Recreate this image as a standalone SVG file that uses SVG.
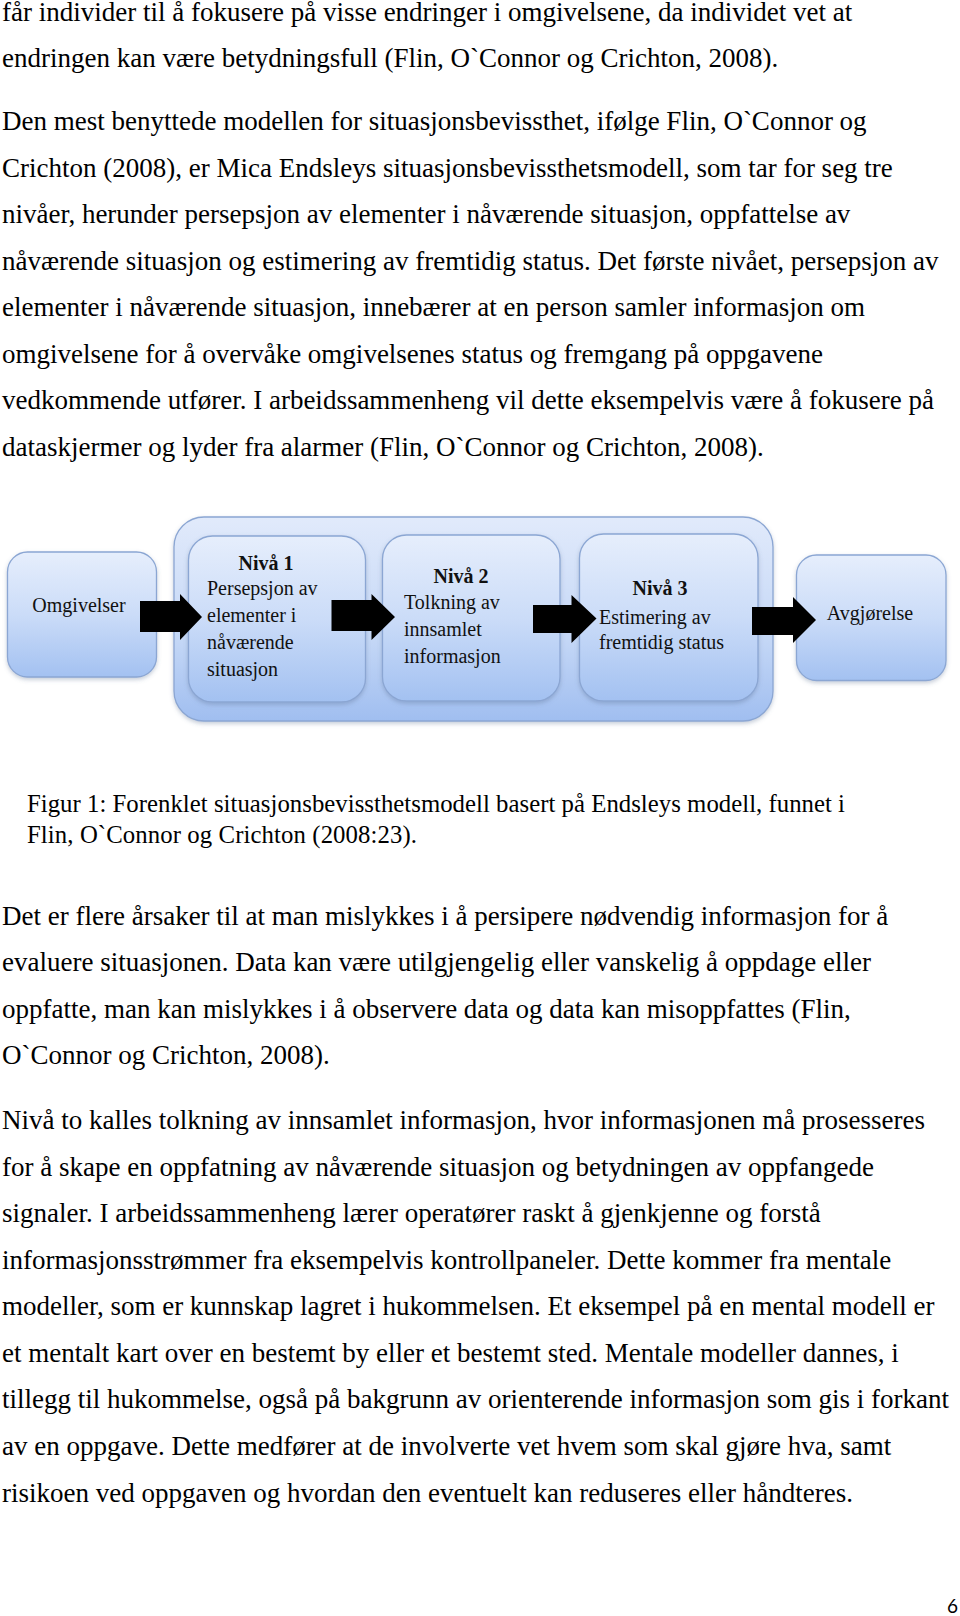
<svg xmlns="http://www.w3.org/2000/svg" width="960" height="1616" viewBox="0 0 960 1616">
<style>
.body{font-family:"Liberation Serif","Times New Roman",serif;font-size:27px;fill:#000}
.cap{font-family:"Liberation Serif","Times New Roman",serif;font-size:24.75px;fill:#000}
.dt{font-family:"Liberation Serif","Times New Roman",serif;font-size:20px;fill:#111}
.db{font-family:"Liberation Serif","Times New Roman",serif;font-size:20px;font-weight:bold;fill:#111;text-anchor:middle}
.box{fill:url(#boxGrad);stroke:#8ba6d3;stroke-width:1.3;filter:url(#sh)}
.outer{fill:url(#outerGrad);stroke:#8ba6d3;stroke-width:1.3;filter:url(#sh)}
.arrow{fill:#000}
.pg{font-family:Lato,"Open Sans",sans-serif;font-size:19px;fill:#000;text-anchor:end}
</style>
<defs>
<linearGradient id="boxGrad" x1="0" y1="0" x2="0" y2="1">
<stop offset="0" stop-color="#e6eefc"/>
<stop offset="0.5" stop-color="#cbdcf8"/>
<stop offset="1" stop-color="#a3c1f1"/>
</linearGradient>
<linearGradient id="outerGrad" x1="0" y1="0" x2="0" y2="1">
<stop offset="0" stop-color="#e1eafb"/>
<stop offset="0.6" stop-color="#c4d7f6"/>
<stop offset="1" stop-color="#a0bef0"/>
</linearGradient>
<filter id="sh" x="-10%" y="-10%" width="120%" height="125%">
<feDropShadow dx="0" dy="2" stdDeviation="2" flood-color="#5a6f90" flood-opacity="0.35"/>
</filter>
</defs>
<rect width="960" height="1616" fill="#fff"/>

<g id="text">
<text class="body" x="2" y="21">får individer til å fokusere på visse endringer i omgivelsene, da individet vet at</text>
<text class="body" x="2" y="66.5">endringen kan være betydningsfull (Flin, O`Connor og Crichton, 2008).</text>
<text class="body" x="2" y="130">Den mest benyttede modellen for situasjonsbevissthet, ifølge Flin, O`Connor og</text>
<text class="body" x="2" y="176.5">Crichton (2008), er Mica Endsleys situasjonsbevissthetsmodell, som tar for seg tre</text>
<text class="body" x="2" y="223">nivåer, herunder persepsjon av elementer i nåværende situasjon, oppfattelse av</text>
<text class="body" x="2" y="269.5">nåværende situasjon og estimering av fremtidig status. Det første nivået, persepsjon av</text>
<text class="body" x="2" y="316">elementer i nåværende situasjon, innebærer at en person samler informasjon om</text>
<text class="body" x="2" y="362.5">omgivelsene for å overvåke omgivelsenes status og fremgang på oppgavene</text>
<text class="body" x="2" y="409">vedkommende utfører. I arbeidssammenheng vil dette eksempelvis være å fokusere på</text>
<text class="body" x="2" y="455.5">dataskjermer og lyder fra alarmer (Flin, O`Connor og Crichton, 2008).</text>
<text class="cap" x="27" y="812.3" textLength="818" lengthAdjust="spacing">Figur 1: Forenklet situasjonsbevissthetsmodell basert på Endsleys modell, funnet i</text>
<text class="cap" x="27" y="843" textLength="390" lengthAdjust="spacing">Flin, O`Connor og Crichton (2008:23).</text>
<text class="body" x="2" y="924.5">Det er flere årsaker til at man mislykkes i å persipere nødvendig informasjon for å</text>
<text class="body" x="2" y="971">evaluere situasjonen. Data kan være utilgjengelig eller vanskelig å oppdage eller</text>
<text class="body" x="2" y="1017.5">oppfatte, man kan mislykkes i å observere data og data kan misoppfattes (Flin,</text>
<text class="body" x="2" y="1064">O`Connor og Crichton, 2008).</text>
<text class="body" x="2" y="1129">Nivå to kalles tolkning av innsamlet informasjon, hvor informasjonen må prosesseres</text>
<text class="body" x="2" y="1175.5">for å skape en oppfatning av nåværende situasjon og betydningen av oppfangede</text>
<text class="body" x="2" y="1222">signaler. I arbeidssammenheng lærer operatører raskt å gjenkjenne og forstå</text>
<text class="body" x="2" y="1268.5">informasjonsstrømmer fra eksempelvis kontrollpaneler. Dette kommer fra mentale</text>
<text class="body" x="2" y="1315">modeller, som er kunnskap lagret i hukommelsen. Et eksempel på en mental modell er</text>
<text class="body" x="2" y="1361.5">et mentalt kart over en bestemt by eller et bestemt sted. Mentale modeller dannes, i</text>
<text class="body" x="2" y="1408">tillegg til hukommelse, også på bakgrunn av orienterende informasjon som gis i forkant</text>
<text class="body" x="2" y="1454.5">av en oppgave. Dette medfører at de involverte vet hvem som skal gjøre hva, samt</text>
<text class="body" x="2" y="1501.5">risikoen ved oppgaven og hvordan den eventuelt kan reduseres eller håndteres.</text>
<text class="pg" x="958" y="1613">6</text>
</g>

<g id="omgivelser">
<rect class="box" x="7.5" y="552" width="149" height="125" rx="20"/>
<text class="dt" x="79" y="611.5" text-anchor="middle">Omgivelser</text>
</g>

<g id="situasjonsbevissthet">
<rect class="outer" x="174" y="517" width="599" height="204" rx="30"/>
</g>

<g id="niva1">
<rect class="box" x="188.5" y="536" width="177" height="166" rx="24"/>
<text class="db" x="266" y="569.5">Nivå 1</text>
<text class="dt" x="207" y="595">Persepsjon av</text>
<text class="dt" x="207" y="622">elementer i</text>
<text class="dt" x="207" y="649">nåværende</text>
<text class="dt" x="207" y="675.5">situasjon</text>
</g>

<g id="niva2">
<rect class="box" x="382.5" y="535" width="177.5" height="166" rx="24"/>
<text class="db" x="461" y="582.5">Nivå 2</text>
<text class="dt" x="404" y="608.5">Tolkning av</text>
<text class="dt" x="404" y="635.5">innsamlet</text>
<text class="dt" x="404" y="662.5">informasjon</text>
</g>

<g id="niva3">
<rect class="box" x="579.5" y="534" width="178.5" height="167" rx="24"/>
<text class="db" x="660" y="595">Nivå 3</text>
<text class="dt" x="599" y="624">Estimering av</text>
<text class="dt" x="599" y="649">fremtidig status</text>
</g>

<g id="avgjorelse">
<rect class="box" x="796.5" y="555" width="149.5" height="125.5" rx="20"/>
<text class="dt" x="870" y="620" text-anchor="middle">Avgjørelse</text>
</g>

<g id="connectors">
<polygon class="arrow" points="140,601 180,601 180,594 202,617 180,640 180,632 140,632"/>
<polygon class="arrow" points="331.5,600 371.5,600 371.5,594 395,617 371.5,640 371.5,631 331.5,631"/>
<polygon class="arrow" points="533,605 571.5,605 571.5,595 596.5,618.5 571.5,643 571.5,633 533,633"/>
<polygon class="arrow" points="752,607 793,607 793,597 816,620 793,643 793,635 752,635"/>
</g>
</svg>
